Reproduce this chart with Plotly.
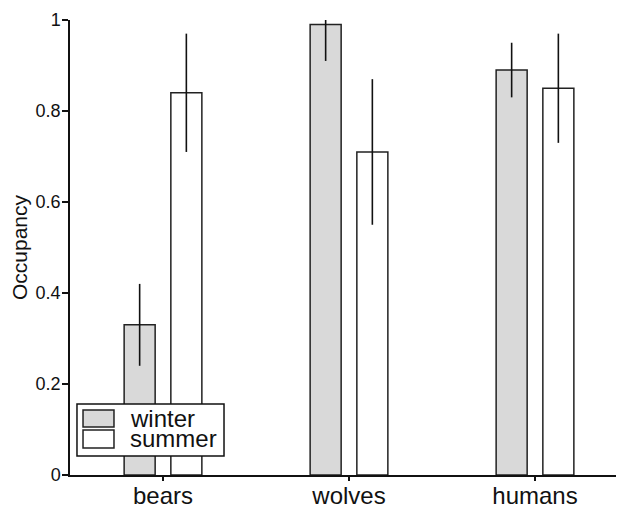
import plotly.graph_objects as go

categories = ["bears", "wolves", "humans"]
winter = [0.33, 0.99, 0.89]
winter_lo = [0.24, 0.91, 0.83]
winter_hi = [0.42, 1.00, 0.95]
summer = [0.84, 0.71, 0.85]
summer_lo = [0.71, 0.55, 0.73]
summer_hi = [0.97, 0.87, 0.97]
y_ticks = [0, 0.2, 0.4, 0.6, 0.8, 1]
y_ticklabels = ["0", "0.2", "0.4", "0.6", "0.8", "1"]

FONT = "Liberation Sans, Arial, Helvetica, sans-serif"
BAR_W = 0.1667
GAP = 0.0844

def errs(vals, lo, hi):
    return ([h - v for v, h in zip(vals, hi)], [v - l for v, l in zip(vals, lo)])

w_up, w_dn = errs(winter, winter_lo, winter_hi)
s_up, s_dn = errs(summer, summer_lo, summer_hi)

fig = go.Figure()
fig.add_trace(go.Bar(
    x=categories, y=winter, name="winter",
    width=BAR_W, offset=-(BAR_W + GAP / 2),
    marker=dict(color="#d9d9d9", line=dict(color="#222222", width=1.5)),
    error_y=dict(type="data", symmetric=False, array=w_up, arrayminus=w_dn,
                 color="#111111", thickness=1.6, width=0),
))
fig.add_trace(go.Bar(
    x=categories, y=summer, name="summer",
    width=BAR_W, offset=GAP / 2,
    marker=dict(color="#ffffff", line=dict(color="#222222", width=1.5)),
    error_y=dict(type="data", symmetric=False, array=s_up, arrayminus=s_dn,
                 color="#111111", thickness=1.6, width=0),
))

# custom legend (box, swatches, labels) in paper coordinates
shapes = [
    dict(type="rect", xref="paper", yref="paper", x0=0.0126, x1=0.278, y0=0.0418, y1=0.156,
         line=dict(color="#111111", width=1.5), fillcolor="white", layer="above"),
    dict(type="rect", xref="paper", yref="paper", x0=0.0235, x1=0.0794, y0=0.1055, y1=0.1429,
         line=dict(color="#222222", width=1.5), fillcolor="#d9d9d9", layer="above"),
    dict(type="rect", xref="paper", yref="paper", x0=0.0235, x1=0.0794, y0=0.0593, y1=0.0989,
         line=dict(color="#222222", width=1.5), fillcolor="white", layer="above"),
]
annotations = [
    dict(text=t, xref="paper", yref="paper", x=0.1047, y=yy, xanchor="left", yanchor="middle",
         showarrow=False, font=dict(family=FONT, size=24, color="#111111"))
    for t, yy in zip(["winter", "summer"], [0.124, 0.081])
]

# page body has an 8px margin: figure is sized/offset so the plot lands at
# screen x 70..624, y 20..475
fig.update_layout(
    width=616, height=497,
    margin=dict(l=62, r=0, t=12, b=30),
    paper_bgcolor="white", plot_bgcolor="white",
    showlegend=False,
    barmode="group",
    font=dict(family=FONT, color="#111111"),
    shapes=shapes, annotations=annotations,
    xaxis=dict(range=[-0.5, -0.5 + 554 / 186], showline=True, linecolor="#111111", linewidth=1.5,
               ticks="outside", ticklen=4, tickwidth=1.5, tickcolor="#111111",
               tickfont=dict(size=24, family=FONT), showgrid=False, zeroline=False,
               automargin=False, ticklabelstandoff=-6),
    yaxis=dict(range=[0, 1], tickvals=y_ticks, ticktext=y_ticklabels,
               showline=True, linecolor="#111111", linewidth=1.5,
               ticks="outside", ticklen=6, tickwidth=1.5, tickcolor="#111111",
               tickfont=dict(size=18, family=FONT), showgrid=False, zeroline=False,
               automargin=False, ticklabelstandoff=-2,
               title=dict(text="Occupancy", font=dict(size=21, family=FONT), standoff=6)),
)

fig.write_html("out.html")
